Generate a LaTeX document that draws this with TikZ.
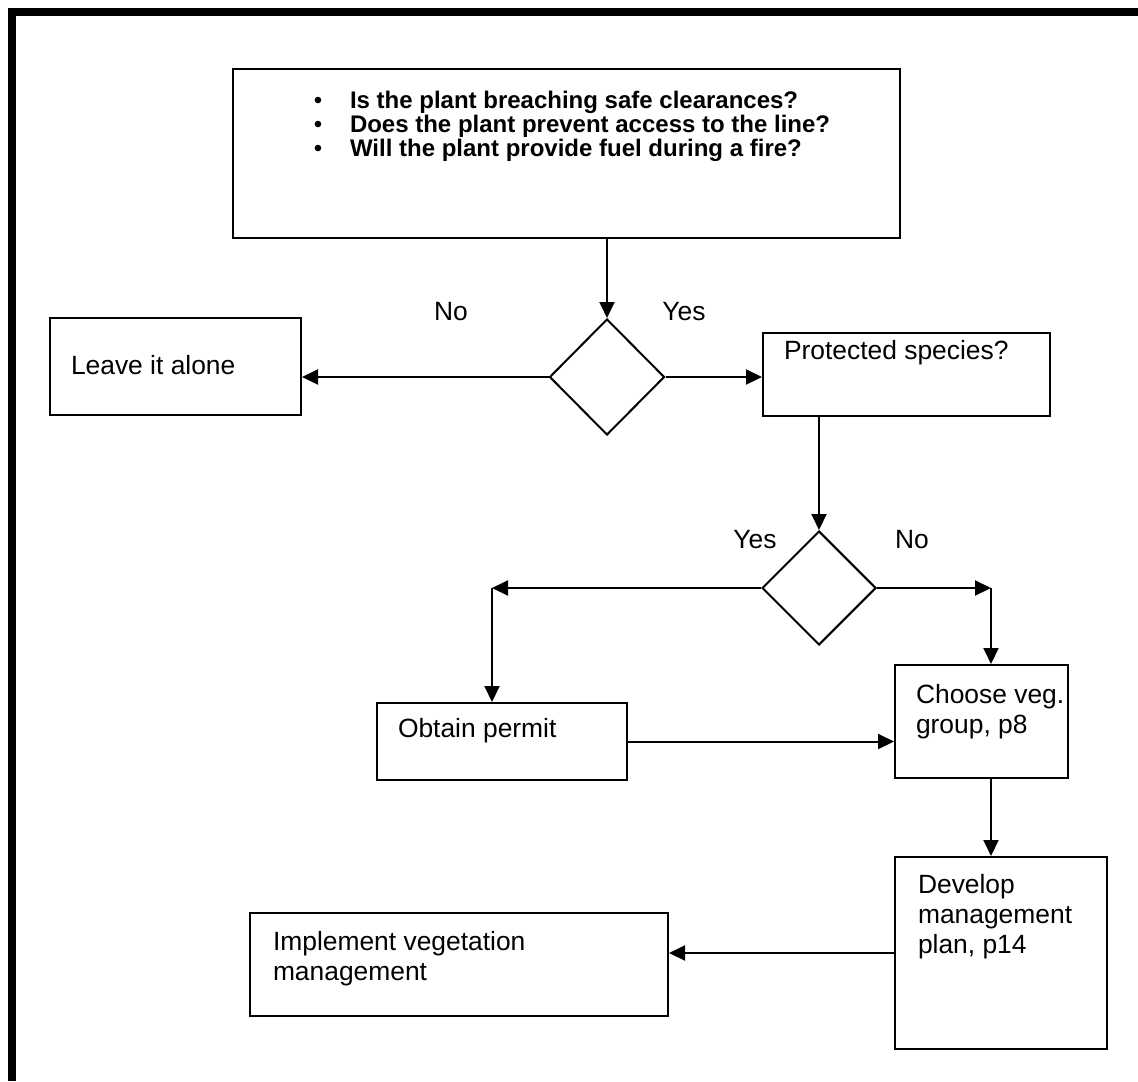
\documentclass[tikz,border=0pt]{standalone}
\usepackage{fontspec}
\setmainfont{Liberation Sans}
\usetikzlibrary{shapes.geometric,arrows.meta}

\begin{document}
\begin{tikzpicture}[x=0.5pt, y=-0.5pt, line width=1pt,
    box/.style={draw, rectangle, inner sep=0pt},
    choice/.style={draw, diamond, inner sep=0pt, minimum width=57.5pt, minimum height=58pt},
    txt/.style={anchor=base west, inner sep=0pt, font=\fontsize{13.2}{15}\selectfont},
    mtxt/.style={anchor=north west, align=left, inner sep=0pt, font=\fontsize{13.2}{15}\selectfont},
    qtxt/.style={anchor=base west, inner sep=0pt, font=\fontsize{12}{12}\selectfont\bfseries},
    ans/.style={anchor=base, inner sep=0pt, font=\fontsize{13.2}{15}\selectfont},
    link/.style={-{Triangle[length=8pt,width=7.5pt]}}]
  \useasboundingbox (0,0) rectangle (1138,1081);
  \fill (8,8) rectangle (1138,16);
  \fill (8,8) rectangle (16,1081);

  % questions
  \node[box, minimum width=333.5pt, minimum height=84.5pt] (check) at (566.5,153.5) {};
  \foreach \q [count=\i] in {Is the plant breaching safe clearances?,
      Does the plant prevent access to the line?,
      Will the plant provide fuel during a fire?} {
    \node[ans, font=\fontsize{12}{12}\selectfont] (b\i) at (318,84+24*\i) {\textbullet};
    \node[qtxt] (q\i) at (349,84+24*\i) {\q};
  }

  % first decision
  \node[choice] (d1) at (607,377) {};
  \node[box, minimum width=125.5pt, minimum height=48.5pt] (leave) at (175.5,366.5) {};
  \node[txt] (leavetxt) at (70,374) {Leave it alone};
  \node[box, minimum width=143.5pt, minimum height=41.5pt] (prot) at (906.5,374.5) {};
  \node[txt] (prottxt) at (783,359) {Protected species?};
  \node[ans] (no1) at (451,320) {No};
  \node[ans] (yes1) at (684,320) {Yes};

  % second decision
  \node[choice, minimum width=57pt, minimum height=57pt] (d2) at (819,588) {};
  \coordinate (ycorner) at (492,588);
  \coordinate (ncorner) at (991,588);
  \node[ans] (yes2) at (755,548) {Yes};
  \node[ans] (no2) at (912,548) {No};
  \node[box, minimum width=125pt, minimum height=38.5pt] (obtain) at (502,741.5) {};
  \node[txt] (obtaintxt) at (397,737) {Obtain permit};
  \node[box, minimum width=86.5pt, minimum height=56.5pt] (choose) at (981.5,721.5) {};
  \node[mtxt] (choosetxt) at (915,683) {Choose veg.\\group, p8};

  % plan
  \node[box, minimum width=106pt, minimum height=96pt] (develop) at (1001,953) {};
  \node[mtxt] (developtxt) at (917,873) {Develop\\management\\plan, p14};
  \node[box, minimum width=209pt, minimum height=51.5pt] (implement) at (459,964.5) {};
  \node[mtxt] (implementtxt) at (272,930) {Implement vegetation\\management};

  \draw[link] (check.south -| d1.north) -- (d1.north);
  \draw[link] (d1.west) -- (d1.west -| leave.east);
  \draw[link] (d1.east) -- (d1.east -| prot.west);
  \draw[link] (prot.south -| d2.north) -- (d2.north);
  \draw[link] (d2.west) -- (ycorner);
  \draw[link] (ycorner) -- (ycorner |- obtain.north);
  \draw[link] (d2.east) -- (ncorner);
  \draw[link] (ncorner) -- (ncorner |- choose.north);
  \draw[link] (obtain.east) -- (obtain.east -| choose.west);
  \draw[link] (choose.south -| ncorner) -- (ncorner |- develop.north);
  \draw[link] (develop.west) -- (develop.west -| implement.east);
\end{tikzpicture}
\end{document}
